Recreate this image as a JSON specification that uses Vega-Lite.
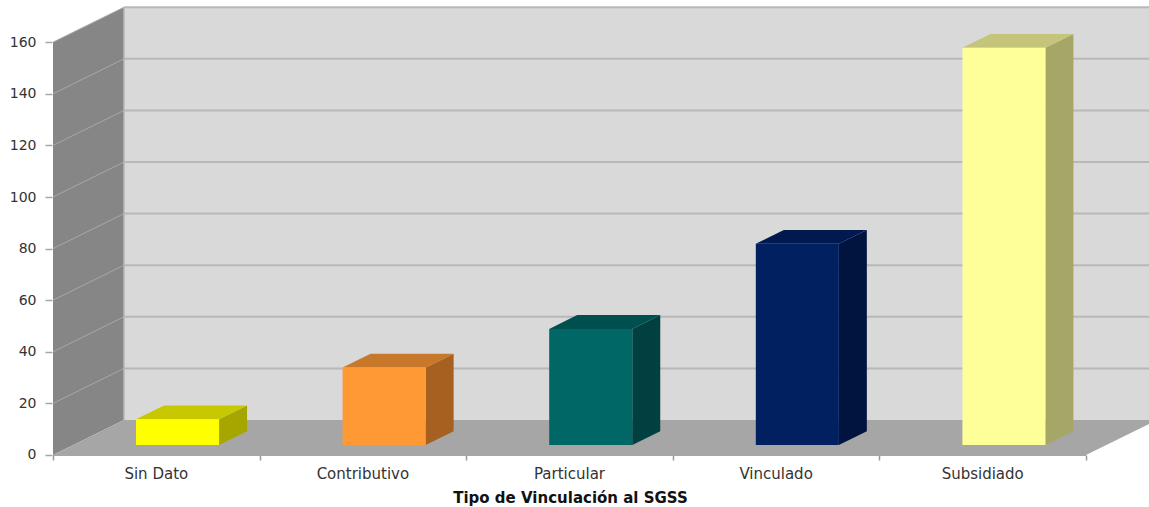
{
  "$schema": "https://vega.github.io/schema/vega-lite/v6.json",
  "width": 1149,
  "height": 507,
  "autosize": "none",
  "padding": 0,
  "background": "white",
  "config": {"view": {"stroke": null}, "font": "DejaVu Sans", "axis": {"grid": false, "domain": false}},
  "params": [
    {"name": "dx", "value": 0.3437},
    {"name": "dy", "value": 13.56}
  ],
  "datasets": {
    "vinculacion": [
      {"tipo": "Sin Dato", "orden": 0, "casos": 10},
      {"tipo": "Contributivo", "orden": 1, "casos": 30},
      {"tipo": "Particular", "orden": 2, "casos": 45},
      {"tipo": "Vinculado", "orden": 3, "casos": 78},
      {"tipo": "Subsidiado", "orden": 4, "casos": 154}
    ],
    "niveles": [
      {"nivel": 20}, {"nivel": 40}, {"nivel": 60}, {"nivel": 80},
      {"nivel": 100}, {"nivel": 120}, {"nivel": 140}, {"nivel": 160}
    ],
    "profundidad": [{"d": 0}, {"d": 1}]
  },
  "resolve": {"scale": {"color": "independent"}},
  "layer": [
    {
      "description": "Back wall",
      "data": {"values": [{"a": 0, "b": 5.4}]},
      "transform": [
        {"calculate": "datum.a + dx", "as": "x0"},
        {"calculate": "dy", "as": "y0"},
        {"calculate": "160 + dy", "as": "y1"}
      ],
      "mark": {"type": "rect", "fill": "#d9d9d9", "clip": true},
      "encoding": {
        "x": {
          "field": "x0", "type": "quantitative",
          "scale": {"domain": [-0.25653, 5.30494], "nice": false, "zero": false},
          "axis": {
            "values": [0, 1, 2, 3, 4, 5], "labels": false, "grid": false, "domain": false,
            "tickSize": 5, "tickColor": "#999999", "tickWidth": 1.5,
            "offset": -52, "zindex": 1,
            "title": "Tipo de Vinculación al SGSS", "titleFont": "DejaVu Sans", "titleFontSize": 15,
            "titleFontWeight": "bold", "titleColor": "#111111", "titleX": 570, "titleY": 42,
            "titleBaseline": "middle"
          }
        },
        "x2": {"field": "b"},
        "y": {
          "field": "y0", "type": "quantitative",
          "scale": {"domain": [-20.16, 176.36], "nice": false, "zero": false},
          "axis": {
            "values": [0, 20, 40, 60, 80, 100, 120, 140, 160], "grid": false, "domain": false,
            "tickSize": 7, "tickColor": "#a6a6a6", "tickWidth": 1.5,
            "offset": -52, "labelPadding": 9, "labelFontSize": 14, "labelColor": "#333333",
            "labelFont": "DejaVu Sans", "title": "", "zindex": 1
          }
        },
        "y2": {"field": "y1"}
      }
    },
    {
      "description": "Left wall",
      "data": {"name": "profundidad"},
      "transform": [
        {"calculate": "datum.d * dx", "as": "x0"},
        {"calculate": "datum.d * dy", "as": "y0"},
        {"calculate": "160 + datum.d * dy", "as": "y1"}
      ],
      "mark": {"type": "area", "fill": "#868686", "orient": "vertical"},
      "encoding": {
        "x": {"field": "x0", "type": "quantitative"},
        "y": {"field": "y0", "type": "quantitative", "stack": null},
        "y2": {"field": "y1"}
      }
    },
    {
      "description": "Floor",
      "data": {"name": "profundidad"},
      "transform": [
        {"calculate": "datum.d * dx", "as": "x0"},
        {"calculate": "5 + datum.d * dx", "as": "x1"},
        {"calculate": "datum.d * dy", "as": "y0"}
      ],
      "mark": {"type": "area", "fill": "#a6a6a6", "orient": "horizontal", "clip": true},
      "encoding": {
        "x": {"field": "x0", "type": "quantitative", "stack": null},
        "x2": {"field": "x1"},
        "y": {"field": "y0", "type": "quantitative"}
      }
    },
    {
      "description": "Grid lines across the left wall",
      "data": {"name": "niveles"},
      "transform": [
        {"calculate": "[0, 1]", "as": "d"},
        {"flatten": ["d"]},
        {"calculate": "datum.d * dx", "as": "x0"},
        {"calculate": "datum.nivel + datum.d * dy", "as": "y0"}
      ],
      "mark": {"type": "line", "stroke": "#a8a8a8", "strokeWidth": 1},
      "encoding": {
        "x": {"field": "x0", "type": "quantitative"},
        "y": {"field": "y0", "type": "quantitative"},
        "detail": {"field": "nivel"}
      }
    },
    {
      "description": "Grid lines across the back wall",
      "data": {"name": "niveles"},
      "transform": [
        {"calculate": "dx", "as": "x0"},
        {"calculate": "5.4", "as": "x1"},
        {"calculate": "datum.nivel + dy", "as": "y0"}
      ],
      "mark": {"type": "rule", "stroke": "#b8b8b8", "strokeWidth": 2, "clip": true},
      "encoding": {
        "x": {"field": "x0", "type": "quantitative"},
        "x2": {"field": "x1"},
        "y": {"field": "y0", "type": "quantitative"}
      }
    },
    {
      "description": "Corner edge between the two walls",
      "data": {"values": [{"a": 0, "b": 160}]},
      "transform": [
        {"calculate": "dx", "as": "x0"},
        {"calculate": "datum.a + dy", "as": "y0"},
        {"calculate": "datum.b + dy", "as": "y1"}
      ],
      "mark": {"type": "rule", "stroke": "#b8b8b8", "strokeWidth": 1.5},
      "encoding": {
        "x": {"field": "x0", "type": "quantitative"},
        "y": {"field": "y0", "type": "quantitative"},
        "y2": {"field": "y1"}
      }
    },
    {
      "description": "Front edge of the floor",
      "data": {"values": [{"a": 0, "b": 5, "c": 0}]},
      "mark": {"type": "rule", "stroke": "#a6a6a6", "strokeWidth": 2},
      "encoding": {
        "x": {"field": "a", "type": "quantitative"},
        "x2": {"field": "b"},
        "y": {"field": "c", "type": "quantitative"}
      }
    },
    {
      "description": "Side faces of the columns",
      "data": {"name": "vinculacion"},
      "transform": [
        {"calculate": "[0.286, 0.68]", "as": "d"},
        {"flatten": ["d"]},
        {"calculate": "datum.orden + 0.3035 + 0.402 + datum.d * dx", "as": "x0"},
        {"calculate": "datum.d * dy", "as": "y0"},
        {"calculate": "datum.casos + datum.d * dy", "as": "y1"}
      ],
      "mark": {"type": "area", "orient": "vertical"},
      "encoding": {
        "x": {"field": "x0", "type": "quantitative"},
        "y": {"field": "y0", "type": "quantitative", "stack": null},
        "y2": {"field": "y1"},
        "color": {
          "field": "tipo", "type": "nominal", "legend": null,
          "scale": {
            "domain": ["Sin Dato", "Contributivo", "Particular", "Vinculado", "Subsidiado"],
            "range": ["#a6a600", "#a6601f", "#004040", "#00143f", "#a6a666"]
          }
        }
      }
    },
    {
      "description": "Top faces of the columns",
      "data": {"name": "vinculacion"},
      "transform": [
        {"calculate": "[0.286, 0.68]", "as": "d"},
        {"flatten": ["d"]},
        {"calculate": "datum.orden + 0.3035 + datum.d * dx", "as": "x0"},
        {"calculate": "datum.x0 + 0.402", "as": "x1"},
        {"calculate": "datum.casos + datum.d * dy", "as": "y0"}
      ],
      "mark": {"type": "area", "orient": "horizontal"},
      "encoding": {
        "x": {"field": "x0", "type": "quantitative", "stack": null},
        "x2": {"field": "x1"},
        "y": {"field": "y0", "type": "quantitative"},
        "color": {
          "field": "tipo", "type": "nominal", "legend": null,
          "scale": {
            "domain": ["Sin Dato", "Contributivo", "Particular", "Vinculado", "Subsidiado"],
            "range": ["#c8c800", "#c8782a", "#004f4f", "#001a50", "#c4c47a"]
          }
        }
      }
    },
    {
      "description": "Front faces of the columns",
      "data": {"name": "vinculacion"},
      "transform": [
        {"calculate": "datum.orden + 0.3035 + 0.286 * dx", "as": "x0"},
        {"calculate": "datum.x0 + 0.402", "as": "x1"},
        {"calculate": "0.286 * dy", "as": "y0"},
        {"calculate": "datum.casos + 0.286 * dy", "as": "y1"}
      ],
      "mark": {"type": "bar"},
      "encoding": {
        "x": {"field": "x0", "type": "quantitative"},
        "x2": {"field": "x1"},
        "y": {"field": "y0", "type": "quantitative", "stack": null},
        "y2": {"field": "y1"},
        "color": {
          "field": "tipo", "type": "nominal", "legend": null,
          "scale": {
            "domain": ["Sin Dato", "Contributivo", "Particular", "Vinculado", "Subsidiado"],
            "range": ["#ffff00", "#ff9933", "#006666", "#002060", "#ffff99"]
          }
        }
      }
    },
    {
      "description": "Category labels below the floor",
      "data": {"name": "vinculacion"},
      "transform": [
        {"calculate": "datum.orden + 0.5", "as": "x0"},
        {"calculate": "0", "as": "y0"}
      ],
      "mark": {"type": "text", "dy": 19, "baseline": "middle", "fontSize": 15, "font": "DejaVu Sans", "fill": "#333333"},
      "encoding": {
        "x": {"field": "x0", "type": "quantitative"},
        "y": {"field": "y0", "type": "quantitative"},
        "text": {"field": "tipo"}
      }
    }
  ]
}
